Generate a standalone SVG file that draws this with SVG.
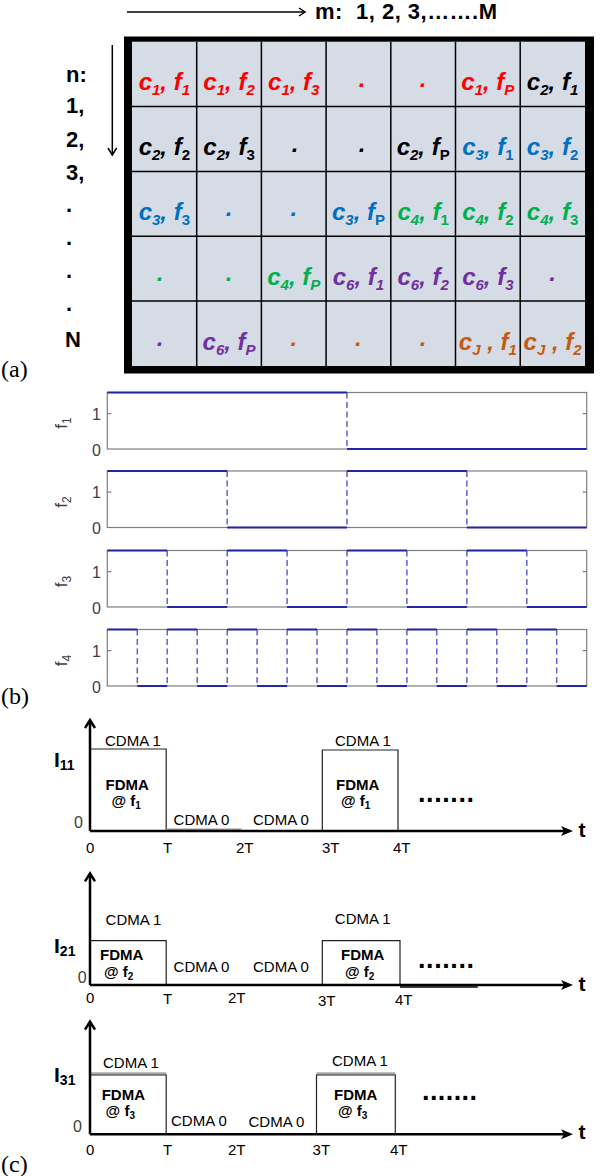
<svg xmlns="http://www.w3.org/2000/svg" width="602" height="1176" viewBox="0 0 602 1176">
<style>
.ct{font-family:"Liberation Sans",Arial,sans-serif;font-weight:bold;font-style:italic;font-size:24px;text-anchor:middle}
.s{font-size:15px}
.u{font-style:normal}
.r{fill:#ff0000}.k{fill:#000}.b{fill:#0070c0}.g{fill:#00b050}.p{fill:#7030a0}.o{fill:#c55a11}
.lab{font-family:"Liberation Sans",Arial,sans-serif;font-weight:bold;font-size:22px;fill:#000}
.pn{font-family:"Liberation Serif","Times New Roman",serif;font-size:24px;fill:#000}
.gl{stroke:#000;stroke-width:1.5;fill:none}
.box{stroke:#7f7f7f;stroke-width:1.2;fill:#fff}
.sig{stroke:#2424a8;stroke-width:2;fill:none}
.dsh{stroke:#6262d0;stroke-width:1.5;fill:none;stroke-dasharray:6 3.5}
.tk{stroke:#7f7f7f;stroke-width:1.2}
.tl{font-family:"Liberation Sans",Arial,sans-serif;font-size:16px;fill:#404040}
.fl{font-family:"Liberation Sans",Arial,sans-serif;font-size:17px;fill:#404040;text-anchor:middle}
.ax{stroke:#000;stroke-width:2.5;fill:none}
.pu{stroke:#222;stroke-width:1.2;fill:none}
.cl{font-family:"Liberation Sans",Arial,sans-serif;font-size:15px;fill:#000}
.fd{font-family:"Liberation Sans",Arial,sans-serif;font-size:15px;font-weight:bold;fill:#000}
.ii{font-family:"Liberation Sans",Arial,sans-serif;font-size:21px;font-weight:bold;fill:#000}
.dt{font-family:"Liberation Sans",Arial,sans-serif;font-size:27px;font-weight:bold;fill:#000}
</style>
<defs>
<marker id="ah" markerUnits="userSpaceOnUse" markerWidth="14" markerHeight="12" refX="3" refY="5" orient="auto">
<path d="M0,0 L12,5 L0,10 L3,5 z" fill="#000"/>
</marker>
</defs>
<rect width="602" height="1176" fill="#fff"/>

<!-- (a) -->
<g id="m-axis">
<line x1="127" y1="12" x2="305" y2="12" stroke="#000" stroke-width="1.5"/>
<polyline points="299,8 305,12 299,16" stroke="#000" stroke-width="1.5" fill="none"/>
<text class="lab" x="315" y="19" font-size="20" style="white-space:pre" textLength="182" lengthAdjust="spacing">m:  1, 2, 3,…….M</text>
</g>
<g id="n-axis">
<line x1="112.3" y1="45" x2="112.3" y2="155" stroke="#000" stroke-width="1.5"/>
<polyline points="108,148 112.3,155 116.6,148" stroke="#000" stroke-width="1.5" fill="none"/>
<text class="lab" x="66" y="81.7">n:</text>
<text class="lab" x="66" y="113">1,</text>
<text class="lab" x="66" y="146.5">2,</text>
<text class="lab" x="66" y="180">3,</text>
<text class="lab" x="66" y="212">.</text>
<text class="lab" x="66" y="245">.</text>
<text class="lab" x="66" y="278">.</text>
<text class="lab" x="66" y="311">.</text>
<text class="lab" x="65" y="346.7">N</text>
</g>
<g id="grid">
<rect x="124" y="36.5" width="470" height="337" fill="#000"/>
<rect x="132" y="41.7" width="453" height="324.3" fill="#d6dce5"/>
<path class="gl" d="M196.7,41.7V366 M261.4,41.7V366 M326.1,41.7V366 M390.8,41.7V366 M455.5,41.7V366 M520.2,41.7V366 M132,106.6H585 M132,171.4H585 M132,236.3H585 M132,301.1H585"/>
</g>
<g id="row1">
<g id="c11"><text class="ct r" x="164.35" y="90.2">c<tspan class="s" dy="5">1</tspan><tspan dy="-5">, f</tspan><tspan class="s" dy="5">1</tspan></text></g>
<g id="c12"><text class="ct r" x="229.05" y="90.2">c<tspan class="s" dy="5">1</tspan><tspan dy="-5">, f</tspan><tspan class="s" dy="5">2</tspan></text></g>
<g id="c13"><text class="ct r" x="293.75" y="90.2">c<tspan class="s" dy="5">1</tspan><tspan dy="-5">, f</tspan><tspan class="s" dy="5">3</tspan></text></g>
<g id="c14"><text class="ct r" x="362" y="86.7">.</text></g>
<g id="c15"><text class="ct r" x="423.15" y="86.7">.</text></g>
<g id="c16"><text class="ct r" x="487.85" y="90.2">c<tspan class="s" dy="5">1</tspan><tspan dy="-5">, f</tspan><tspan class="s" dy="5">P</tspan></text></g>
<g id="c17"><text class="ct k" x="552.55" y="90.2">c<tspan class="s" dy="5">2</tspan><tspan dy="-5">, f</tspan><tspan class="s" dy="5">1</tspan></text></g>
</g>
<g id="row2">
<g id="c21"><text class="ct k" x="164.35" y="155.1">c<tspan class="s" dy="5">2</tspan><tspan dy="-5">, f</tspan><tspan class="s u" dy="5">2</tspan></text></g>
<g id="c22"><text class="ct k" x="229.05" y="155.1">c<tspan class="s" dy="5">2</tspan><tspan dy="-5">, f</tspan><tspan class="s u" dy="5">3</tspan></text></g>
<g id="c23"><text class="ct k" x="295" y="151.6">.</text></g>
<g id="c24"><text class="ct k" x="362" y="151.6">.</text></g>
<g id="c25"><text class="ct k" x="423.15" y="155.1">c<tspan class="s" dy="5">2</tspan><tspan dy="-5">, f</tspan><tspan class="s u" dy="5">P</tspan></text></g>
<g id="c26"><text class="ct b" x="487.85" y="155.1">c<tspan class="s" dy="5">3</tspan><tspan dy="-5">, f</tspan><tspan class="s u" dy="5">1</tspan></text></g>
<g id="c27"><text class="ct b" x="552.55" y="155.1">c<tspan class="s" dy="5">3</tspan><tspan dy="-5">, f</tspan><tspan class="s u" dy="5">2</tspan></text></g>
</g>
<g id="row3">
<g id="c31"><text class="ct b" x="164.35" y="219.9">c<tspan class="s" dy="5">3</tspan><tspan dy="-5">, f</tspan><tspan class="s u" dy="5">3</tspan></text></g>
<g id="c32"><text class="ct b" x="229.05" y="216.4">.</text></g>
<g id="c33"><text class="ct b" x="293.75" y="216.4">.</text></g>
<g id="c34"><text class="ct b" x="358.45" y="219.9">c<tspan class="s" dy="5">3</tspan><tspan dy="-5">, f</tspan><tspan class="s u" dy="5">P</tspan></text></g>
<g id="c35"><text class="ct g" x="423.15" y="219.9">c<tspan class="s" dy="5">4</tspan><tspan dy="-5">, f</tspan><tspan class="s u" dy="5">1</tspan></text></g>
<g id="c36"><text class="ct g" x="487.85" y="219.9">c<tspan class="s" dy="5">4</tspan><tspan dy="-5">, f</tspan><tspan class="s u" dy="5">2</tspan></text></g>
<g id="c37"><text class="ct g" x="552.55" y="219.9">c<tspan class="s" dy="5">4</tspan><tspan dy="-5">, f</tspan><tspan class="s u" dy="5">3</tspan></text></g>
</g>
<g id="row4">
<g id="c41"><text class="ct g" x="160" y="281.3">.</text></g>
<g id="c42"><text class="ct g" x="229.05" y="281.3">.</text></g>
<g id="c43"><text class="ct g" x="293.75" y="284.8">c<tspan class="s" dy="5">4</tspan><tspan dy="-5">, f</tspan><tspan class="s" dy="5">P</tspan></text></g>
<g id="c44"><text class="ct p" x="358.45" y="284.8">c<tspan class="s" dy="5">6</tspan><tspan dy="-5">, f</tspan><tspan class="s" dy="5">1</tspan></text></g>
<g id="c45"><text class="ct p" x="423.15" y="284.8">c<tspan class="s" dy="5">6</tspan><tspan dy="-5">, f</tspan><tspan class="s" dy="5">2</tspan></text></g>
<g id="c46"><text class="ct p" x="487.85" y="284.8">c<tspan class="s" dy="5">6</tspan><tspan dy="-5">, f</tspan><tspan class="s" dy="5">3</tspan></text></g>
<g id="c47"><text class="ct p" x="552.55" y="281.3">.</text></g>
</g>
<g id="row5">
<g id="c51"><text class="ct p" x="160" y="346.1">.</text></g>
<g id="c52"><text class="ct p" x="229.05" y="349.6">c<tspan class="s" dy="5">6</tspan><tspan dy="-5">, f</tspan><tspan class="s" dy="5">P</tspan></text></g>
<g id="c53"><text class="ct o" x="293.75" y="346.1">.</text></g>
<g id="c54"><text class="ct o" x="358.45" y="346.1">.</text></g>
<g id="c55"><text class="ct o" x="423.15" y="346.1">.</text></g>
<g id="c56"><text class="ct o" x="487.85" y="349.6">c<tspan class="s" dy="5">J</tspan><tspan dy="-5"> , f</tspan><tspan class="s" dy="5">1</tspan></text></g>
<g id="c57"><text class="ct o" x="552.55" y="349.6">c<tspan class="s" dy="5">J</tspan><tspan dy="-5"> , f</tspan><tspan class="s" dy="5">2</tspan></text></g>
</g>
<text class="pn" x="1" y="377">(a)</text>

<!-- (b) -->
<g id="plot-f1">
<rect class="box" x="107.3" y="392.5" width="479.4" height="56.5"/>
<path class="tk" d="M107.3,413.7h4 M586.7,413.7h-4"/>
<text class="tl" x="101" y="419.5" text-anchor="end">1</text>
<text class="tl" x="101" y="455.5" text-anchor="end">0</text>
<text class="fl" transform="translate(67,423) rotate(-90)">f<tspan font-size="12" dy="4">1</tspan></text>
<path class="dsh" d="M347,392.5V449"/>
<path class="sig" d="M107.3,392.5H347 M347,449H586.7"/>
</g>
<g id="plot-f2">
<rect class="box" x="107.3" y="471" width="479.4" height="56.5"/>
<path class="tk" d="M107.3,492.2h4 M586.7,492.2h-4"/>
<text class="tl" x="101" y="498" text-anchor="end">1</text>
<text class="tl" x="101" y="534" text-anchor="end">0</text>
<text class="fl" transform="translate(67,502) rotate(-90)">f<tspan font-size="12" dy="4">2</tspan></text>
<path class="dsh" d="M227.15,471V527.5 M347,471V527.5 M466.85,471V527.5"/>
<path class="sig" d="M107.3,471H227.15 M227.15,527.5H347 M347,471H466.85 M466.85,527.5H586.7"/>
</g>
<g id="plot-f3">
<rect class="box" x="107.3" y="550.5" width="479.4" height="56.5"/>
<path class="tk" d="M107.3,571.7h4 M586.7,571.7h-4"/>
<text class="tl" x="101" y="577.5" text-anchor="end">1</text>
<text class="tl" x="101" y="613.5" text-anchor="end">0</text>
<text class="fl" transform="translate(67,581.5) rotate(-90)">f<tspan font-size="12" dy="4">3</tspan></text>
<path class="dsh" d="M167.2,550.5V607 M227.2,550.5V607 M287.1,550.5V607 M347,550.5V607 M406.9,550.5V607 M466.9,550.5V607 M526.8,550.5V607"/>
<path class="sig" d="M107.3,550.5H167.2 M167.2,607H227.2 M227.2,550.5H287.1 M287.1,607H347 M347,550.5H406.9 M406.9,607H466.9 M466.9,550.5H526.8 M526.8,607H586.7"/>
</g>
<g id="plot-f4">
<rect class="box" x="107.3" y="629.5" width="479.4" height="56.5"/>
<path class="tk" d="M107.3,650.7h4 M586.7,650.7h-4"/>
<text class="tl" x="101" y="656.5" text-anchor="end">1</text>
<text class="tl" x="101" y="692.5" text-anchor="end">0</text>
<text class="fl" transform="translate(67,660.5) rotate(-90)">f<tspan font-size="12" dy="4">4</tspan></text>
<path class="dsh" d="M137.3,629.5V686 M167.2,629.5V686 M197.2,629.5V686 M227.2,629.5V686 M257.1,629.5V686 M287.1,629.5V686 M317,629.5V686 M347,629.5V686 M376.9,629.5V686 M406.9,629.5V686 M436.8,629.5V686 M466.9,629.5V686 M496.8,629.5V686 M526.8,629.5V686 M556.7,629.5V686"/>
<path class="sig" d="M107.3,629.5H137.3 M137.3,686H167.2 M167.2,629.5H197.2 M197.2,686H227.2 M227.2,629.5H257.1 M257.1,686H287.1 M287.1,629.5H317 M317,686H347 M347,629.5H376.9 M376.9,686H406.9 M406.9,629.5H436.8 M436.8,686H466.9 M466.9,629.5H496.8 M496.8,686H526.8 M526.8,629.5H556.7 M556.7,686H586.7"/>
</g>
<text class="pn" x="1" y="704">(b)</text>

<!-- (c) diagram 1 -->
<g id="timing-1">
<path class="pu" d="M90,831V749H166.2V831 M322.3,831V750H398V831"/>
<path d="M166,829.5H241.5" stroke="#999" stroke-width="2"/>
<path class="ax" d="M90,831V720 M85,728L90,720L95,728"/>
<line class="ax" x1="90" y1="831" x2="564" y2="831" marker-end="url(#ah)"/>
<text class="ii" x="54" y="766.5">I<tspan font-size="14" dy="3">11</tspan></text>
<text class="tl" x="74" y="828" fill="#000" font-size="15">0</text>
<text class="cl" x="105" y="746">CDMA 1</text>
<text class="cl" x="335" y="746">CDMA 1</text>
<text class="fd" x="105.6" y="790">FDMA</text>
<text class="fd" x="111.5" y="806">@ f<tspan font-size="10" dy="3">1</tspan></text>
<text class="fd" x="336" y="790">FDMA</text>
<text class="fd" x="341" y="806">@ f<tspan font-size="10" dy="3">1</tspan></text>
<text class="cl" x="173.6" y="825">CDMA 0</text>
<text class="cl" x="253" y="825">CDMA 0</text>
<text class="dt" x="418" y="802" textLength="56" lengthAdjust="spacing">.......</text>
<text class="ii" x="578.5" y="837">t</text>
<text class="cl" x="86" y="853">0</text>
<text class="cl" x="163" y="853">T</text>
<text class="cl" x="236" y="853">2T</text>
<text class="cl" x="322" y="853">3T</text>
<text class="cl" x="393" y="853">4T</text>
</g>

<!-- (c) diagram 2 -->
<g id="timing-2">
<path class="pu" d="M90,985V940.7H166.2V985 M322.3,985V940.7H400V985"/>
<path d="M400,987H477.7" stroke="#000" stroke-width="1.5"/>
<path class="ax" d="M90,985V873.3 M85,881.3L90,873.3L95,881.3"/>
<line class="ax" x1="90" y1="985" x2="564" y2="985" marker-end="url(#ah)"/>
<text class="ii" x="54" y="953">I<tspan font-size="14" dy="3">21</tspan></text>
<text class="tl" x="77.7" y="983" fill="#000" font-size="15">0</text>
<text class="cl" x="105.6" y="925">CDMA 1</text>
<text class="cl" x="334.8" y="924">CDMA 1</text>
<text class="fd" x="100" y="960">FDMA</text>
<text class="fd" x="104" y="977">@ f<tspan font-size="10" dy="3">2</tspan></text>
<text class="fd" x="341" y="960">FDMA</text>
<text class="fd" x="345" y="977">@ f<tspan font-size="10" dy="3">2</tspan></text>
<text class="cl" x="173.6" y="972">CDMA 0</text>
<text class="cl" x="253" y="972">CDMA 0</text>
<text class="dt" x="418" y="968" textLength="56" lengthAdjust="spacing">.......</text>
<text class="ii" x="578.5" y="991">t</text>
<text class="cl" x="86" y="1003">0</text>
<text class="cl" x="163" y="1004">T</text>
<text class="cl" x="228" y="1003">2T</text>
<text class="cl" x="318" y="1006">3T</text>
<text class="cl" x="395" y="1005">4T</text>
</g>

<!-- (c) diagram 3 -->
<g id="timing-3">
<path d="M90,1073.5H166.2 M316.5,1073.5H395.3" stroke="#aaa" stroke-width="2.5"/>
<path class="pu" d="M90,1134.3V1075H166.2V1134.3 M316.5,1134.3V1075H395.3V1134.3"/>
<path class="ax" d="M90,1134.3V1021.7 M85,1029.7L90,1021.7L95,1029.7"/>
<line class="ax" x1="90" y1="1134.3" x2="564" y2="1134.3" marker-end="url(#ah)"/>
<text class="ii" x="54" y="1081.5">I<tspan font-size="14" dy="3">31</tspan></text>
<text class="tl" x="73" y="1132" fill="#000" font-size="15">0</text>
<text class="cl" x="103" y="1068">CDMA 1</text>
<text class="cl" x="332" y="1066">CDMA 1</text>
<text class="fd" x="101.7" y="1100">FDMA</text>
<text class="fd" x="105.6" y="1116">@ f<tspan font-size="10" dy="3">3</tspan></text>
<text class="fd" x="334" y="1100">FDMA</text>
<text class="fd" x="338" y="1116">@ f<tspan font-size="10" dy="3">3</tspan></text>
<text class="cl" x="171" y="1126">CDMA 0</text>
<text class="cl" x="248.5" y="1127">CDMA 0</text>
<text class="dt" x="422" y="1100" textLength="55" lengthAdjust="spacing">.......</text>
<text class="ii" x="578.5" y="1139">t</text>
<text class="cl" x="86" y="1155">0</text>
<text class="cl" x="163" y="1155">T</text>
<text class="cl" x="228" y="1155">2T</text>
<text class="cl" x="312.6" y="1155">3T</text>
<text class="cl" x="390" y="1155">4T</text>
</g>
<text class="pn" x="1" y="1172">(c)</text>
</svg>
